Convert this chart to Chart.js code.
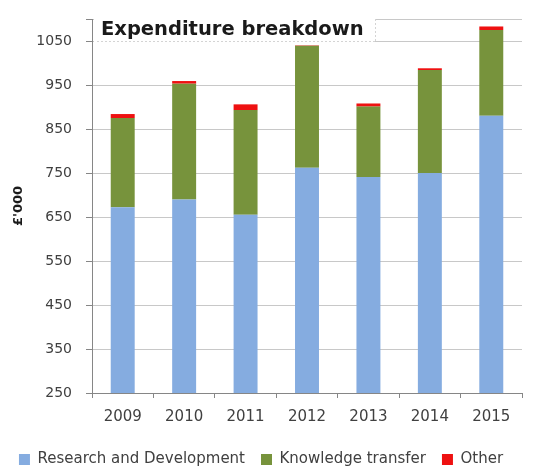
<!DOCTYPE html>
<html>
<head>
<meta charset="utf-8">
<script src="https://cdn.jsdelivr.net/npm/chart.js@4/dist/chart.umd.min.js"></script>
<style>
  html, body { margin: 0; padding: 0; background: #fff; }
  #wrap { width: 533px; height: 467px; }
</style>
</head>
<body>
<div id="wrap"><canvas id="chart" width="533" height="467"></canvas></div>
<script>
// data (£'000)
var years = ['2009', '2010', '2011', '2012', '2013', '2014', '2015'];
var research = [672, 690, 655, 762, 741, 750, 880];
var knowledge = [203, 263, 238, 277, 160, 234, 195];
var other = [9, 6, 13, 1, 7, 4, 8];
var yTicks = [250, 350, 450, 550, 650, 750, 850, 950, 1050];
var yMin = 250, yMax = 1100;

var chartTitle = 'Expenditure breakdown';
var axisTitle = "£'000";

var FONT = "'DejaVu Sans', sans-serif";

// title sits inside the plot, on a white box over the top gridlines
var titleBox = {
  id: 'titleBox',
  beforeDatasetsDraw: function(chart) {
    var ctx = chart.ctx, area = chart.chartArea;
    var yScale = chart.scales.y;
    var yl = Math.round(yScale.getPixelForValue(yTicks[yTicks.length - 1]));
    var right = 375;
    ctx.save();
    ctx.fillStyle = '#fff';
    ctx.fillRect(area.left + 2, area.top - 8, right - area.left - 2, yl - area.top + 9);
    ctx.strokeStyle = '#d4d4d4';
    ctx.setLineDash([2, 2]);
    ctx.lineWidth = 1;
    ctx.beginPath();
    ctx.moveTo(area.left + 5, yl + 0.5);
    ctx.lineTo(right, yl + 0.5);
    ctx.moveTo(right + 0.5, area.top);
    ctx.lineTo(right + 0.5, yl);
    ctx.stroke();
    ctx.setLineDash([]);
    ctx.fillStyle = '#1a1a1a';
    ctx.font = 'bold 19.5px ' + FONT;
    ctx.textBaseline = 'alphabetic';
    ctx.textAlign = 'left';
    ctx.fillText(chartTitle, 101, 35);
    ctx.restore();
  }
};

var ctx = document.getElementById('chart').getContext('2d');
var myChart = new Chart(ctx, {
  type: 'bar',
  data: {
    labels: years,
    datasets: [
      { label: 'Research and Development', data: research, backgroundColor: '#85ace0' },
      { label: 'Knowledge transfer', data: knowledge, backgroundColor: '#77933c' },
      { label: 'Other', data: other, backgroundColor: '#ee1111' }
    ]
  },
  options: {
    responsive: false,
    animation: false,
    devicePixelRatio: 1,
    layout: { padding: { top: 19, right: 11, left: 0, bottom: 0 } },
    datasets: { bar: { categoryPercentage: 1.0, barPercentage: 0.39 } },
    plugins: {
      legend: {
        position: 'bottom',
        maxHeight: 31,
        labels: {
          boxWidth: 11, boxHeight: 11, padding: 16,
          color: '#404040',
          font: { family: FONT, size: 15 }
        }
      },
      tooltip: { enabled: false }
    },
    scales: {
      x: {
        stacked: true,
        grid: { display: true, drawOnChartArea: false, offset: true, tickLength: 5, color: '#868686' },
        border: { color: '#868686' },
        ticks: { color: '#404040', padding: 10, font: { family: FONT, size: 15 } },
        afterFit: function(scale) { scale.height = 43; }
      },
      y: {
        stacked: true,
        min: yMin, max: yMax,
        afterBuildTicks: function(scale) {
          scale.ticks = yTicks.concat([yMax]).map(function(v) { return { value: v }; });
        },
        ticks: {
          color: '#404040',
          padding: 14,
          font: { family: FONT, size: 14 },
          callback: function(v) { return v === yMax ? '' : v; }
        },
        grid: { color: '#c8c8c8', tickLength: 6, tickColor: '#868686' },
        border: { color: '#868686' },
        title: {
          display: true, text: axisTitle, color: '#1a1a1a',
          padding: { top: 11, bottom: 0 },
          font: { family: FONT, size: 13, weight: 'bold' }
        },
        afterFit: function(scale) {
          scale.width = 92;
          scale.paddingTop = 0;
        }
      }
    }
  },
  plugins: [titleBox]
});
</script>
</body>
</html>
